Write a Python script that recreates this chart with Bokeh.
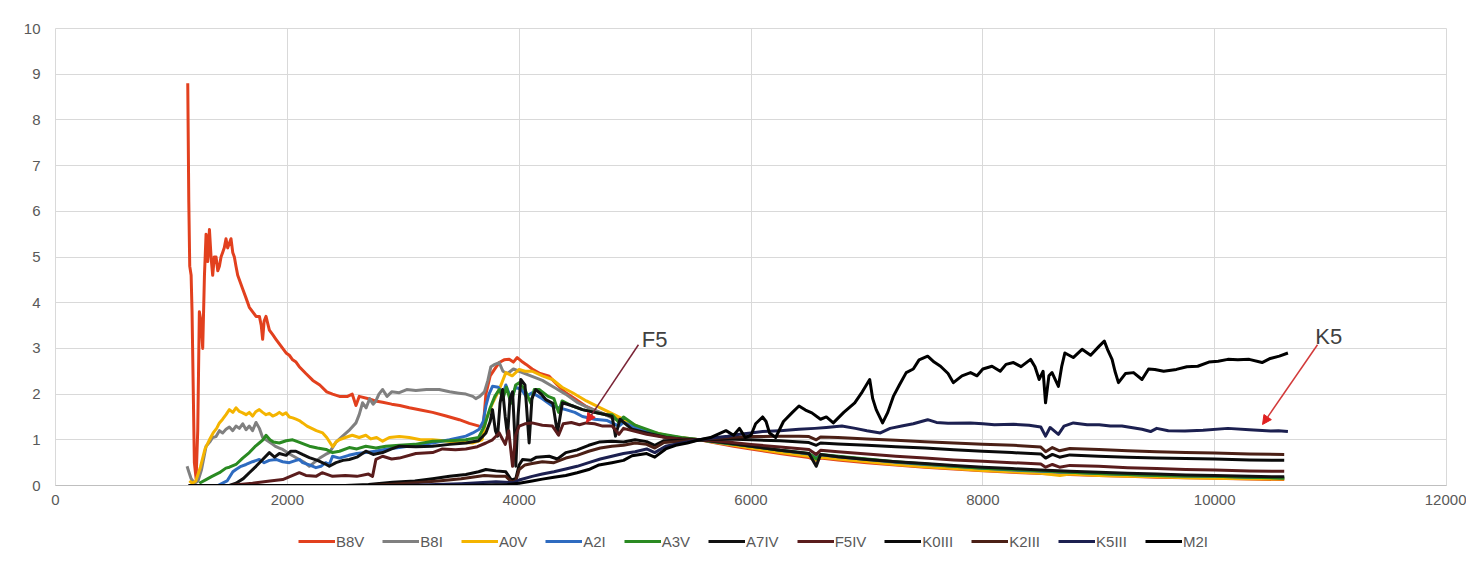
from bokeh.plotting import figure
from bokeh.layouts import column
from bokeh.models import Legend, LegendItem, FixedTicker, Arrow, NormalHead, Range1d, ColumnDataSource
from bokeh.core.properties import value
from bokeh.embed import file_html
from bokeh.resources import INLINE

# ---------------- data (wavelength, relative flux) ----------------
B8V = [(1141, 8.8), (1150, 6.2), (1158, 4.8), (1170, 4.6), (1178, 3.8), (1198, 0.5), (1213, 0.15), (1227, 1.2),
       (1241, 3.8), (1255, 3.6), (1270, 3.0), (1285, 4.6), (1299, 5.5), (1313, 4.9), (1328, 5.6), (1342, 5.0),
       (1356, 4.6), (1370, 5.0), (1385, 5.0), (1400, 4.7), (1414, 4.8), (1428, 5.0), (1442, 5.1), (1456, 5.2),
       (1471, 5.4), (1485, 5.2), (1500, 5.3), (1514, 5.4), (1529, 5.1), (1543, 5.0), (1557, 4.8), (1572, 4.6),
       (1586, 4.5), (1615, 4.3), (1644, 4.1), (1672, 3.9), (1701, 3.8), (1730, 3.7), (1759, 3.7), (1775, 3.5),
       (1787, 3.2), (1800, 3.6), (1816, 3.7), (1845, 3.4), (1874, 3.3), (1902, 3.2), (1931, 3.1), (1960, 3.0),
       (1989, 2.9), (2017, 2.85), (2046, 2.75), (2075, 2.7), (2103, 2.6), (2160, 2.45), (2220, 2.3), (2280, 2.2),
       (2340, 2.05), (2390, 2.0), (2450, 1.95), (2520, 1.95), (2560, 2.0), (2592, 1.75), (2620, 1.95), (2700, 1.9),
       (2760, 1.85), (2822, 1.82), (2900, 1.78), (2970, 1.75), (3052, 1.7), (3150, 1.65), (3253, 1.6), (3370, 1.52),
       (3483, 1.44), (3570, 1.36), (3655, 1.3), (3690, 1.28), (3713, 2.0), (3750, 2.4), (3790, 2.55), (3828, 2.69),
       (3870, 2.75), (3914, 2.76), (3950, 2.7), (3983, 2.8), (4020, 2.72), (4060, 2.65), (4112, 2.55), (4180, 2.45),
       (4259, 2.39), (4330, 2.2), (4402, 2.03), (4490, 1.88), (4578, 1.73), (4690, 1.6), (4802, 1.51), (4890, 1.4),
       (4974, 1.29), (5100, 1.18), (5264, 1.08), (5400, 1.03), (5556, 1.0), (5700, 0.93), (5850, 0.86), (6000, 0.8),
       (6250, 0.7), (6500, 0.61), (6563, 0.55), (6600, 0.6), (6750, 0.56), (7000, 0.5), (7250, 0.45), (7500, 0.4),
       (7750, 0.36), (8000, 0.32), (8250, 0.29), (8500, 0.26), (8750, 0.24), (9000, 0.22), (9250, 0.2), (9500, 0.18),
       (9750, 0.17), (10000, 0.16), (10300, 0.14), (10600, 0.13)]

B8I = [(1135, 0.42), (1150, 0.3), (1170, 0.15), (1200, 0.05), (1230, 0.1), (1260, 0.35), (1299, 0.86), (1330, 0.95),
       (1356, 1.05), (1385, 1.07), (1414, 1.2), (1442, 1.15), (1471, 1.23), (1500, 1.28), (1529, 1.2), (1557, 1.3),
       (1586, 1.25), (1615, 1.35), (1644, 1.22), (1672, 1.3), (1700, 1.2), (1730, 1.38), (1759, 1.25), (1787, 1.05),
       (1816, 1.0), (1845, 0.95), (1874, 0.9), (1902, 0.85), (1931, 0.82), (1960, 0.79), (2000, 0.72), (2046, 0.65),
       (2103, 0.57), (2150, 0.5), (2190, 0.42), (2230, 0.5), (2280, 0.6), (2330, 0.68), (2362, 0.72), (2420, 0.95),
       (2477, 1.08), (2530, 1.2), (2592, 1.37), (2620, 1.55), (2649, 1.81), (2680, 1.7), (2710, 1.9), (2740, 1.78),
       (2764, 1.85), (2790, 2.0), (2822, 2.1), (2860, 1.95), (2900, 2.05), (2966, 2.03), (3030, 2.1), (3109, 2.08),
       (3200, 2.1), (3310, 2.1), (3400, 2.05), (3480, 2.02), (3540, 2.0), (3600, 1.95), (3626, 1.9), (3660, 1.95),
       (3700, 2.05), (3730, 2.3), (3756, 2.6), (3790, 2.65), (3828, 2.69), (3860, 2.5), (3900, 2.45), (3950, 2.55),
       (4000, 2.5), (4100, 2.4), (4200, 2.3), (4300, 2.15), (4400, 2.0), (4500, 1.82), (4600, 1.7), (4700, 1.6),
       (4800, 1.48), (4900, 1.38), (5000, 1.28), (5200, 1.12), (5400, 1.04), (5556, 1.0), (5800, 0.9), (6000, 0.84),
       (6250, 0.75), (6500, 0.66), (6750, 0.6), (7000, 0.54), (7250, 0.49), (7500, 0.44), (7750, 0.4), (8000, 0.36),
       (8250, 0.32), (8500, 0.29), (8750, 0.27), (9000, 0.25), (9250, 0.23), (9500, 0.21), (9750, 0.2), (10000, 0.18),
       (10300, 0.17), (10600, 0.16)]

A0V = [(1155, 0.1), (1180, 0.05), (1210, 0.1), (1250, 0.4), (1290, 0.8), (1328, 1.0), (1360, 1.15), (1390, 1.25),
       (1414, 1.37), (1442, 1.45), (1471, 1.55), (1500, 1.66), (1530, 1.6), (1557, 1.7), (1586, 1.62), (1615, 1.59),
       (1644, 1.55), (1672, 1.6), (1700, 1.52), (1730, 1.62), (1758, 1.66), (1787, 1.6), (1816, 1.55), (1845, 1.58),
       (1874, 1.52), (1902, 1.55), (1931, 1.6), (1960, 1.55), (1989, 1.59), (2017, 1.5), (2046, 1.48), (2075, 1.45),
       (2103, 1.42), (2132, 1.37), (2170, 1.3), (2210, 1.25), (2250, 1.2), (2305, 1.15), (2340, 1.05), (2391, 0.85),
       (2420, 0.95), (2448, 1.0), (2500, 1.05), (2560, 1.1), (2620, 1.05), (2677, 1.1), (2720, 1.02), (2770, 1.05),
       (2822, 0.97), (2880, 1.05), (2966, 1.07), (3052, 1.05), (3150, 1.0), (3253, 1.0), (3350, 0.98), (3450, 0.95),
       (3598, 0.93), (3680, 1.0), (3713, 1.44), (3770, 1.8), (3828, 2.1), (3885, 2.47), (3940, 2.4), (4000, 2.54),
       (4050, 2.5), (4112, 2.5), (4200, 2.4), (4287, 2.32), (4370, 2.15), (4460, 2.03), (4580, 1.85), (4700, 1.7),
       (4820, 1.55), (4950, 1.38), (5100, 1.2), (5300, 1.08), (5556, 1.0), (5800, 0.9), (6000, 0.82), (6250, 0.72),
       (6500, 0.64), (6563, 0.56), (6600, 0.62), (6750, 0.58), (7000, 0.52), (7250, 0.46), (7500, 0.41), (7750, 0.37),
       (8000, 0.33), (8250, 0.3), (8500, 0.27), (8665, 0.22), (8750, 0.25), (9000, 0.22), (9250, 0.2), (9500, 0.19),
       (9750, 0.17), (10000, 0.16), (10300, 0.15), (10600, 0.14)]

A2I = [(1400, 0.0), (1480, 0.1), (1530, 0.3), (1557, 0.35), (1600, 0.42), (1644, 0.46), (1700, 0.52), (1758, 0.57),
       (1800, 0.5), (1845, 0.55), (1902, 0.57), (1960, 0.52), (2017, 0.5), (2075, 0.55), (2103, 0.57), (2132, 0.5),
       (2190, 0.45), (2247, 0.39), (2290, 0.42), (2330, 0.5), (2362, 0.46), (2390, 0.64), (2450, 0.6), (2530, 0.66),
       (2600, 0.7), (2677, 0.72), (2760, 0.75), (2860, 0.8), (2966, 0.83), (3100, 0.88), (3253, 0.93), (3400, 1.0),
       (3540, 1.08), (3600, 1.15), (3655, 1.23), (3690, 1.4), (3713, 1.74), (3740, 2.0), (3770, 2.17), (3820, 2.15),
       (3860, 2.0), (3885, 2.2), (3930, 1.9), (3970, 2.15), (4020, 2.1), (4060, 1.95), (4112, 2.03), (4200, 1.9),
       (4287, 1.74), (4340, 1.7), (4402, 1.66), (4480, 1.6), (4546, 1.51), (4650, 1.45), (4760, 1.42), (4861, 1.3),
       (4900, 1.38), (5000, 1.27), (5200, 1.12), (5400, 1.04), (5556, 1.0), (5800, 0.92), (6000, 0.86), (6250, 0.77),
       (6500, 0.69), (6563, 0.6), (6600, 0.67), (6750, 0.63), (7000, 0.57), (7250, 0.51), (7500, 0.46), (7750, 0.42),
       (8000, 0.38), (8250, 0.34), (8500, 0.31), (8750, 0.29), (9000, 0.26), (9250, 0.24), (9500, 0.22), (9750, 0.21),
       (10000, 0.2), (10300, 0.18), (10600, 0.17)]

A3V = [(1241, 0.05), (1299, 0.13), (1350, 0.2), (1414, 0.28), (1470, 0.38), (1500, 0.4), (1557, 0.46), (1615, 0.6),
       (1672, 0.72), (1720, 0.85), (1758, 0.93), (1790, 1.0), (1816, 1.1), (1850, 1.0), (1880, 0.95), (1931, 0.93),
       (1990, 0.98), (2046, 1.0), (2100, 0.95), (2150, 0.9), (2190, 0.86), (2260, 0.82), (2334, 0.79), (2390, 0.72),
       (2450, 0.75), (2534, 0.83), (2600, 0.8), (2677, 0.86), (2764, 0.82), (2850, 0.86), (2966, 0.88), (3100, 0.9),
       (3253, 0.97), (3400, 0.98), (3540, 1.0), (3650, 1.05), (3700, 1.3), (3750, 1.7), (3790, 1.95), (3828, 2.1),
       (3860, 1.9), (3890, 2.15), (3930, 1.8), (3970, 2.2), (4000, 2.25), (4050, 2.1), (4100, 1.8), (4130, 2.1),
       (4172, 2.1), (4250, 1.95), (4300, 1.9), (4340, 1.6), (4370, 1.85), (4450, 1.75), (4546, 1.66), (4650, 1.6),
       (4750, 1.55), (4802, 1.55), (4861, 1.38), (4900, 1.5), (5000, 1.32), (5200, 1.14), (5400, 1.05), (5556, 1.0),
       (5800, 0.92), (6000, 0.86), (6250, 0.77), (6500, 0.7), (6563, 0.58), (6600, 0.68), (6750, 0.64), (7000, 0.58),
       (7250, 0.52), (7500, 0.47), (7750, 0.42), (8000, 0.38), (8250, 0.35), (8500, 0.32), (8750, 0.29), (9000, 0.26),
       (9250, 0.24), (9500, 0.22), (9750, 0.21), (10000, 0.2), (10300, 0.18), (10600, 0.16)]

A7IV = [(1150, 0.0), (1500, 0.0), (1557, 0.05), (1620, 0.15), (1672, 0.28), (1730, 0.42), (1787, 0.57), (1845, 0.72),
        (1890, 0.62), (1931, 0.7), (1990, 0.66), (2030, 0.75), (2074, 0.75), (2130, 0.68), (2190, 0.61), (2260, 0.55),
        (2320, 0.48), (2362, 0.42), (2420, 0.5), (2480, 0.55), (2534, 0.57), (2600, 0.62), (2677, 0.75), (2740, 0.68),
        (2822, 0.72), (2900, 0.8), (2966, 0.86), (3109, 0.85), (3253, 0.86), (3400, 0.9), (3540, 0.93), (3650, 0.98),
        (3713, 1.15), (3750, 1.4), (3770, 1.66), (3795, 1.2), (3814, 1.08), (3835, 1.8), (3857, 2.1), (3880, 1.5),
        (3900, 1.08), (3920, 1.9), (3943, 2.05), (3960, 1.2), (3971, 0.42), (3990, 1.5), (4014, 2.32), (4050, 2.2),
        (4086, 0.93), (4110, 1.9), (4143, 2.1), (4190, 2.0), (4230, 1.88), (4290, 1.8), (4330, 1.15), (4373, 1.81),
        (4450, 1.75), (4546, 1.66), (4650, 1.6), (4750, 1.55), (4802, 1.51), (4831, 1.08), (4870, 1.45), (4974, 1.23),
        (5100, 1.15), (5270, 1.05), (5400, 1.02), (5556, 1.0), (5800, 0.93), (6000, 0.86), (6250, 0.77), (6500, 0.7),
        (6563, 0.42), (6600, 0.68), (6750, 0.63), (7000, 0.57), (7250, 0.52), (7500, 0.48), (7750, 0.44), (8000, 0.4),
        (8250, 0.37), (8500, 0.34), (8750, 0.31), (9000, 0.29), (9250, 0.27), (9500, 0.25), (9750, 0.23), (10000, 0.22),
        (10300, 0.2), (10600, 0.19)]

F5IV = [(1150, 0.0), (1500, 0.0), (1700, 0.05), (1850, 0.1), (1960, 0.13), (2103, 0.28), (2160, 0.22), (2247, 0.2),
        (2300, 0.28), (2390, 0.2), (2500, 0.22), (2600, 0.2), (2700, 0.25), (2735, 0.2), (2764, 0.57), (2822, 0.64),
        (2900, 0.58), (2966, 0.6), (3109, 0.7), (3253, 0.72), (3338, 0.8), (3450, 0.78), (3540, 0.8), (3640, 0.85),
        (3713, 0.93), (3770, 1.0), (3828, 1.15), (3880, 0.9), (3910, 1.2), (3943, 0.42), (3970, 1.1), (4000, 1.3),
        (4050, 1.35), (4112, 1.37), (4200, 1.32), (4287, 1.3), (4340, 1.1), (4380, 1.35), (4450, 1.38), (4520, 1.33),
        (4578, 1.37), (4650, 1.35), (4720, 1.3), (4802, 1.3), (4861, 1.12), (4900, 1.25), (4974, 1.2), (5100, 1.12),
        (5264, 1.05), (5400, 1.02), (5556, 1.0), (5800, 0.95), (6000, 0.9), (6250, 0.84), (6500, 0.79), (6563, 0.68),
        (6600, 0.77), (6750, 0.74), (7000, 0.69), (7250, 0.64), (7500, 0.6), (7750, 0.56), (8000, 0.53), (8250, 0.5),
        (8500, 0.47), (8542, 0.4), (8600, 0.46), (8662, 0.4), (8750, 0.44), (9000, 0.42), (9250, 0.39), (9500, 0.37),
        (9750, 0.35), (10000, 0.34), (10300, 0.32), (10600, 0.31)]

K0III = [(1150, 0.0), (2500, 0.0), (2700, 0.02), (2908, 0.07), (3100, 0.1), (3253, 0.15), (3400, 0.2), (3540, 0.24),
         (3650, 0.3), (3713, 0.35), (3800, 0.32), (3885, 0.3), (3933, 0.12), (3971, 0.15), (4000, 0.45), (4029, 0.57),
         (4100, 0.55), (4150, 0.62), (4259, 0.64), (4330, 0.58), (4402, 0.72), (4500, 0.78), (4600, 0.88), (4689, 0.95),
         (4800, 0.97), (4900, 0.95), (5000, 1.0), (5100, 0.96), (5170, 0.88), (5250, 0.98), (5400, 0.99), (5556, 1.0),
         (5800, 1.02), (6000, 1.0), (6250, 0.98), (6500, 0.94), (6563, 0.88), (6600, 0.93), (6750, 0.91), (7000, 0.88),
         (7250, 0.85), (7500, 0.82), (7750, 0.78), (8000, 0.75), (8250, 0.72), (8500, 0.69), (8542, 0.6), (8600, 0.68),
         (8662, 0.62), (8750, 0.67), (9000, 0.64), (9250, 0.62), (9500, 0.6), (9750, 0.59), (10000, 0.58), (10300, 0.56),
         (10600, 0.55)]

K2III = [(1150, 0.0), (2700, 0.0), (2900, 0.03), (3100, 0.06), (3300, 0.1), (3500, 0.15), (3700, 0.22), (3800, 0.2),
         (3885, 0.2), (3933, 0.08), (3971, 0.1), (4000, 0.35), (4050, 0.45), (4112, 0.48), (4200, 0.52), (4300, 0.5),
         (4402, 0.6), (4500, 0.66), (4600, 0.75), (4700, 0.82), (4800, 0.86), (4900, 0.88), (5000, 0.93), (5100, 0.9),
         (5170, 0.82), (5250, 0.94), (5400, 0.97), (5556, 1.0), (5800, 1.05), (6000, 1.07), (6250, 1.08), (6414, 1.08),
         (6500, 1.07), (6563, 1.0), (6600, 1.06), (6750, 1.05), (7000, 1.02), (7250, 0.99), (7500, 0.96), (7750, 0.93),
         (8000, 0.9), (8264, 0.88), (8500, 0.84), (8542, 0.74), (8600, 0.83), (8662, 0.76), (8750, 0.81), (9000, 0.79),
         (9250, 0.76), (9500, 0.74), (9750, 0.72), (10000, 0.71), (10300, 0.69), (10600, 0.68)]

K5III = [(1150, 0.0), (3000, 0.0), (3500, 0.04), (3800, 0.08), (3950, 0.06), (4000, 0.12), (4112, 0.2), (4200, 0.25),
         (4300, 0.3), (4402, 0.36), (4500, 0.42), (4600, 0.5), (4700, 0.58), (4800, 0.64), (4900, 0.7), (5000, 0.74),
         (5100, 0.8), (5170, 0.72), (5264, 0.86), (5400, 0.93), (5556, 1.0), (5700, 1.05), (5800, 1.08), (5900, 1.12),
         (6000, 1.15), (6100, 1.18), (6250, 1.2), (6414, 1.23), (6550, 1.25), (6650, 1.27), (6784, 1.3), (6900, 1.25),
         (7000, 1.2), (7116, 1.15), (7200, 1.25), (7300, 1.3), (7400, 1.35), (7524, 1.44), (7600, 1.38), (7700, 1.36),
         (7894, 1.37), (8000, 1.35), (8100, 1.33), (8264, 1.34), (8400, 1.32), (8500, 1.28), (8541, 1.08), (8580, 1.27),
         (8652, 1.12), (8700, 1.3), (8781, 1.37), (8900, 1.33), (9004, 1.33), (9100, 1.3), (9200, 1.3), (9373, 1.23),
         (9447, 1.18), (9500, 1.25), (9600, 1.2), (9743, 1.19), (9900, 1.21), (10114, 1.25), (10300, 1.22),
         (10484, 1.19), (10550, 1.2), (10632, 1.18)]

M2I = [(1150, 0.0), (3500, 0.0), (3900, 0.02), (4000, 0.05), (4112, 0.1), (4200, 0.14), (4300, 0.18), (4402, 0.22),
       (4500, 0.28), (4600, 0.35), (4689, 0.45), (4800, 0.5), (4900, 0.55), (4974, 0.65), (5100, 0.7), (5170, 0.62),
       (5264, 0.8), (5350, 0.88), (5450, 0.93), (5556, 1.0), (5650, 1.05), (5784, 1.2), (5850, 1.1), (5900, 1.25),
       (5950, 1.05), (6000, 1.1), (6040, 1.35), (6100, 1.5), (6130, 1.4), (6160, 1.15), (6213, 1.05), (6280, 1.4),
       (6357, 1.6), (6414, 1.74), (6470, 1.65), (6525, 1.59), (6600, 1.45), (6650, 1.5), (6710, 1.37), (6800, 1.6),
       (6895, 1.81), (6960, 2.05), (7024, 2.32), (7050, 1.9), (7080, 1.66), (7110, 1.5), (7135, 1.37), (7180, 1.6),
       (7228, 1.95), (7280, 2.2), (7339, 2.47), (7400, 2.55), (7450, 2.75), (7524, 2.83), (7580, 2.7), (7635, 2.61),
       (7700, 2.45), (7746, 2.25), (7820, 2.4), (7894, 2.47), (7950, 2.4), (8000, 2.55), (8079, 2.61), (8150, 2.5),
       (8200, 2.65), (8264, 2.69), (8330, 2.6), (8412, 2.76), (8450, 2.6), (8486, 2.32), (8520, 2.5), (8541, 1.81),
       (8570, 2.4), (8597, 2.47), (8652, 2.17), (8680, 2.6), (8708, 2.9), (8780, 2.8), (8856, 2.98), (8930, 2.85),
       (9004, 3.05), (9048, 3.16), (9080, 2.95), (9115, 2.76), (9140, 2.5), (9170, 2.25), (9230, 2.45), (9300, 2.47),
       (9373, 2.32), (9430, 2.55), (9484, 2.54), (9560, 2.5), (9670, 2.54), (9760, 2.6), (9854, 2.61), (9950, 2.7),
       (10030, 2.72), (10114, 2.76), (10200, 2.75), (10298, 2.76), (10409, 2.69), (10480, 2.78), (10558, 2.83),
       (10632, 2.9)]

series_names = ["B8V", "B8I", "A0V", "A2I", "A3V", "A7IV", "F5IV", "K0III", "K2III", "K5III", "M2I"]
series_data = [B8V, B8I, A0V, A2I, A3V, A7IV, F5IV, K0III, K2III, K5III, M2I]
series_colors = ["#E2401E", "#808080", "#F4B400", "#2E6BC0", "#2A8A22", "#111111",
                 "#5A1C1C", "#0A0A0A", "#4B2016", "#1C2050", "#000000"]

x_ticks = [0, 2000, 4000, 6000, 8000, 10000, 12000]
y_ticks = [0, 1, 2, 3, 4, 5, 6, 7, 8, 9, 10]

ann_labels = ["F5", "K5"]
ann_text_x = [5058, 10868]
ann_text_y = [3.19, 3.27]
arrow_x_start = [5029, 10887]
arrow_y_start = [3.08, 3.08]
arrow_x_end = [4581, 10413]
arrow_y_end = [1.38, 1.335]
arrow_line_colors = ["#7A2436", "#D23A3A"]

# ---------------- main figure ----------------
FONT = "Liberation Sans"
FULL_W = 1466
p = figure(frame_width=1391, frame_height=457, output_backend="svg", toolbar_location=None,
           x_range=Range1d(0, 12000), y_range=Range1d(0, 10),
           min_border_left=55, min_border_right=20, min_border_top=28, min_border_bottom=35)
p.background_fill_color = "white"
p.border_fill_color = "white"
p.outline_line_color = "#D9D9D9"

p.xaxis.ticker = FixedTicker(ticks=x_ticks)
p.yaxis.ticker = FixedTicker(ticks=y_ticks)
for ax in (p.xaxis[0], p.yaxis[0]):
    ax.major_tick_line_color = None
    ax.minor_tick_line_color = None
    ax.major_tick_out = 0
    ax.major_tick_in = 0
    ax.major_label_text_font = FONT
    ax.major_label_text_font_size = "15px"
    ax.major_label_text_color = "#595959"
p.xaxis.axis_line_color = "#BFBFBF"
p.yaxis.axis_line_color = None
p.xaxis.major_label_standoff = 9
p.yaxis.major_label_standoff = 15
p.xgrid.grid_line_color = "#D9D9D9"
p.ygrid.grid_line_color = "#D9D9D9"
p.xgrid.ticker = FixedTicker(ticks=x_ticks)
p.ygrid.ticker = FixedTicker(ticks=y_ticks)

for name, data, color in zip(series_names, series_data, series_colors):
    xs = [d[0] for d in data]
    ys = [d[1] for d in data]
    p.line(xs, ys, line_color=color, line_width=3, line_join="round")

# annotations
for i in range(len(ann_labels)):
    p.add_layout(Arrow(end=NormalHead(size=9, fill_color="#E02020", line_color="#E02020"),
                       x_start=arrow_x_start[i], y_start=arrow_y_start[i],
                       x_end=arrow_x_end[i], y_end=arrow_y_end[i],
                       line_color=arrow_line_colors[i], line_width=1.5))
ann_src = ColumnDataSource(dict(x=ann_text_x, y=ann_text_y, t=ann_labels))
p.text(x="x", y="y", text="t", source=ann_src, text_font=value(FONT), text_font_size="22px",
       text_color="#404040", text_baseline="alphabetic", text_align="left")

# ---------------- legend strip (same series, view range kept empty) ----------------
lg = figure(width=FULL_W, height=42, output_backend="svg", toolbar_location=None,
            x_range=Range1d(-2, -1), y_range=Range1d(-2, -1),
            x_axis_location=None, y_axis_location=None,
            min_border_left=0, min_border_right=0, min_border_top=0, min_border_bottom=0)
lg.grid.visible = False
lg.outline_line_color = None
lg.background_fill_color = "white"
lg.border_fill_color = "white"
items = []
for name, data, color in zip(series_names, series_data, series_colors):
    xs = [d[0] for d in data]
    ys = [d[1] for d in data]
    r = lg.line(xs, ys, line_color=color, line_width=3)
    items.append(LegendItem(label=name, renderers=[r]))
legend = Legend(items=items, orientation="horizontal", location=(243, 12),
                glyph_width=37, glyph_height=18, label_height=18, label_standoff=1, spacing=18,
                padding=0, margin=0, border_line_color=None, background_fill_alpha=0,
                label_text_font=FONT, label_text_font_size="15px", label_text_color="#595959")
lg.add_layout(legend, "center")

layout = column(p, lg, spacing=0)
open("out.html", "w").write(file_html(layout, INLINE))
